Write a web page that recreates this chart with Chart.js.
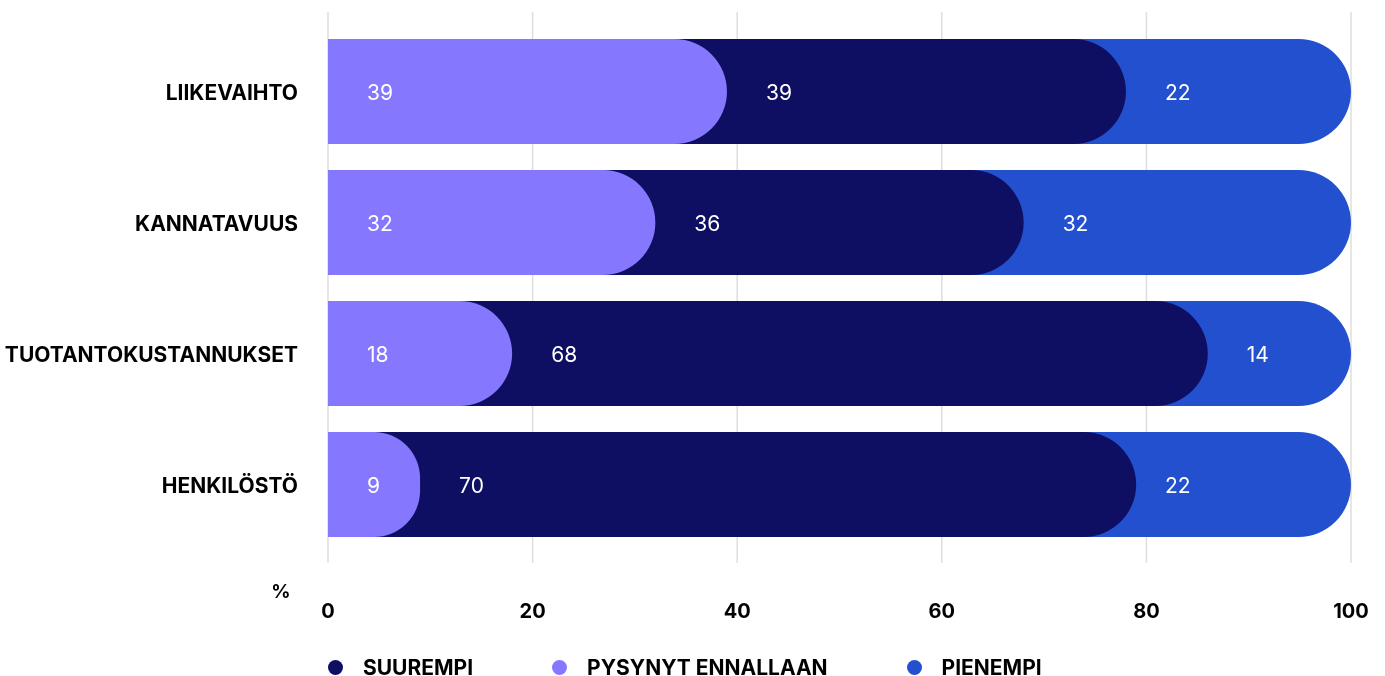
<!DOCTYPE html>
<html lang="fi">
<head>
<meta charset="utf-8">
<title>Muutokset</title>
<script src="https://cdn.jsdelivr.net/npm/chart.js@4/dist/chart.umd.min.js"></script>
<style>
  html, body { margin: 0; padding: 0; background: #fff; }
  #wrap { position: relative; width: 1385px; height: 676px; overflow: hidden; }
  #legend {
    position: absolute; left: 328px; top: 655px;
    display: flex; align-items: center;
    font-family: Inter, "Noto Sans", sans-serif; font-weight: 700; font-size: 21px; color: #000;
  }
  #legend .item { display: flex; align-items: center; margin-right: 79px; }
  #legend .dot { width: 15px; height: 15px; border-radius: 50%; margin-right: 20px; }
</style>
</head>
<body>
<div id="wrap">
  <canvas id="chart" width="1385" height="676"></canvas>
  <div id="legend"></div>
</div>
<script>
const kategoriat = ['LIIKEVAIHTO', 'KANNATAVUUS', 'TUOTANTOKUSTANNUKSET', 'HENKILÖSTÖ'];
const pysynyt = [39, 32, 18, 9];
const suurempi = [39, 36, 68, 70];
const pienempi = [22, 32, 14, 22];
const xTicks = [0, 20, 40, 60, 80, 100];

const FONT = 'Inter, "Noto Sans", sans-serif';

// palkit piirretään päällekkäin nollasta kertymän loppuun, jolloin pyöristetty pää jää edellisen päälle
const kertyma = (arrs) => kategoriat.map((_, i) => Math.min(100, arrs.reduce((s, a) => s + a[i], 0)));

const sarjat = [
  { label: 'SUUREMPI', values: suurempi, end: kertyma([pysynyt, suurempi]), color: '#0e0e62', order: 1 },
  { label: 'PYSYNYT ENNALLAAN', values: pysynyt, end: kertyma([pysynyt]), color: '#8578fe', order: 0 },
  { label: 'PIENEMPI', values: pienempi, end: kertyma([pysynyt, suurempi, pienempi]), color: '#2250ce', order: 2 }
];

// ruudukon pystyviivat hieman piirtoalueen yli
const gridPlugin = {
  id: 'gridLines',
  beforeDatasetsDraw(chart) {
    const { ctx, chartArea, scales: { x } } = chart;
    ctx.save();
    ctx.strokeStyle = '#dedede';
    ctx.lineWidth = 1.5;
    x.ticks.forEach(t => {
      const px = x.getPixelForValue(t.value);
      ctx.beginPath();
      ctx.moveTo(px, chartArea.top - 14);
      ctx.lineTo(px, chartArea.bottom + 13);
      ctx.stroke();
    });
    ctx.restore();
  },
  afterDraw(chart) {
    const { ctx, chartArea } = chart;
    ctx.save();
    ctx.font = `700 19px ${FONT}`;
    ctx.fillStyle = '#000';
    ctx.textAlign = 'center';
    ctx.textBaseline = 'middle';
    ctx.fillText('%', chartArea.left - 47, chartArea.bottom + 42);
    ctx.restore();
  }
};

// arvot palkin osan alkuun
const valuePlugin = {
  id: 'values',
  afterDatasetsDraw(chart) {
    const { ctx, scales: { x } } = chart;
    ctx.save();
    ctx.font = `400 21px ${FONT}`;
    ctx.fillStyle = '#fff';
    ctx.textAlign = 'left';
    ctx.textBaseline = 'middle';
    chart.data.datasets.forEach((ds, di) => {
      chart.getDatasetMeta(di).data.forEach((el, i) => {
        const start = ds.data[i][1] - ds.values[i];
        ctx.fillText(String(ds.values[i]), x.getPixelForValue(start) + 39, el.y + 2);
      });
    });
    ctx.restore();
  }
};

const chart = new Chart(document.getElementById('chart'), {
  type: 'bar',
  data: {
    labels: kategoriat,
    datasets: sarjat.map(s => ({
      label: s.label,
      values: s.values,
      data: s.end.map(e => [0, e]),
      backgroundColor: s.color,
      order: s.order,
      grouped: false,
      barPercentage: 0.8,
      categoryPercentage: 1,
      borderSkipped: false,
      borderRadius: { topLeft: 0, bottomLeft: 0, topRight: 53, bottomRight: 53 }
    }))
  },
  options: {
    indexAxis: 'y',
    responsive: false,
    animation: false,
    layout: { padding: { top: 26, right: 34, left: 0, bottom: 0 } },
    plugins: {
      legend: { display: false },
      tooltip: { enabled: false }
    },
    scales: {
      x: {
        min: 0,
        max: 100,
        afterBuildTicks: scale => { scale.ticks = xTicks.map(v => ({ value: v })); },
        grid: { display: false },
        border: { display: false },
        ticks: {
          padding: 42,
          color: '#000',
          font: { family: FONT, size: 20, weight: '700' }
        },
        afterFit: scale => {
          scale.height = 126;
          scale.paddingLeft = 0;
          scale.paddingRight = 0;
        }
      },
      y: {
        grid: { display: false },
        border: { display: false },
        ticks: {
          padding: 22,
          labelOffset: 2,
          color: '#000',
          font: { family: FONT, size: 21, weight: '700' }
        },
        afterFit: scale => {
          scale.width = 328;
          scale.paddingTop = 0;
          scale.paddingBottom = 0;
        }
      }
    }
  },
  plugins: [gridPlugin, valuePlugin]
});

// selite
const legend = document.getElementById('legend');
chart.data.datasets.forEach(ds => {
  const item = document.createElement('div');
  item.className = 'item';
  const dot = document.createElement('span');
  dot.className = 'dot';
  dot.style.background = ds.backgroundColor;
  const txt = document.createElement('span');
  txt.textContent = ds.label;
  item.appendChild(dot);
  item.appendChild(txt);
  legend.appendChild(item);
});
</script>
</body>
</html>
